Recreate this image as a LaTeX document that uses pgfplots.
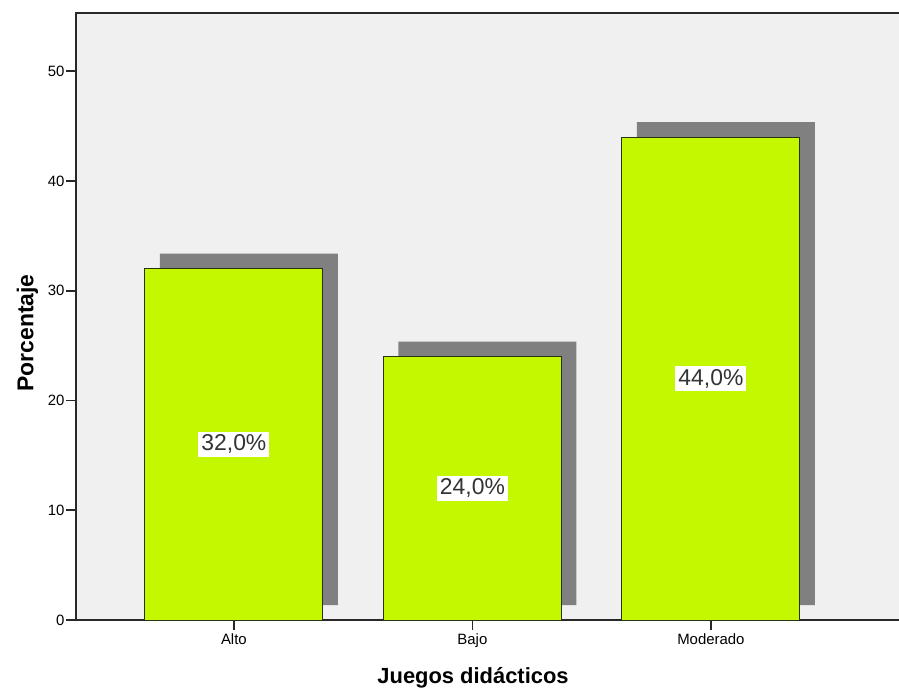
\documentclass[border=0pt]{standalone}
\usepackage{fontspec}
\setmainfont{Liberation Sans}
\usepackage{pgfplots}
\pgfplotsset{compat=1.18}
\definecolor{barfill}{RGB}{196,248,0}
\definecolor{shadowc}{RGB}{128,128,128}
\definecolor{bgc}{RGB}{240,240,240}
\definecolor{edgec}{RGB}{40,50,20}
\definecolor{axc}{RGB}{40,40,40}
\begin{document}
\begin{tikzpicture}
\path[use as bounding box] (-76bp,-68bp) rectangle (823bp,620bp);
\begin{axis}[
  at={(0,0)}, anchor=south west,
  scale only axis, width=835bp, height=607bp,
  xmin=-0.662, xmax=2.839, ymin=0, ymax=55.3,
  axis line style={draw=axc, line width=1.2bp},
  axis background/.style={fill=bgc},
  xtick={0,1,2}, xticklabels={Alto,Bajo,Moderado},
  ytick={0,10,20,30,40,50},
  tick pos=left, tick align=outside,
  major tick length=10bp,
  xtick style={draw=axc, line width=1.6bp},
  ytick style={draw=axc, line width=1.6bp},
  ticklabel style={font=\fontsize{15}{18}\selectfont},
  yticklabel style={xshift=2bp},
  /pgf/number format/assume math mode=true,
  xlabel={Juegos didácticos}, ylabel={Porcentaje},
  x label style={font=\bfseries\fontsize{22}{26}\selectfont, at={(xticklabel cs:0.4755)}, anchor=north, yshift=-13bp},
  y label style={font=\bfseries\fontsize{23}{26}\selectfont, at={(yticklabel cs:0.473)}, yshift=3bp},
]
\addplot[ybar, fill=shadowc, draw=none, bar width=178bp, bar shift=15bp, yshift=15bp]
  coordinates {(0,32) (1,24) (2,44)};
\addplot[ybar, fill=barfill, draw=edgec, line width=1bp, bar width=178bp, bar shift=0pt,
  visualization depends on=rawy \as \rawy,
  nodes near coords={\pgfmathprintnumber[fixed,fixed zerofill,precision=1,use comma,assume math mode=true]{\pgfplotspointmeta}\%},
  every node near coord/.append style={anchor=center, shift={(axis direction cs:0,-\rawy/2)},
    fill=white, text=black!80, font=\fontsize{23}{26}\selectfont, inner xsep=3bp, inner ysep=3bp}]
  coordinates {(0,32) (1,24) (2,44)};
\end{axis}
\end{tikzpicture}
\end{document}
